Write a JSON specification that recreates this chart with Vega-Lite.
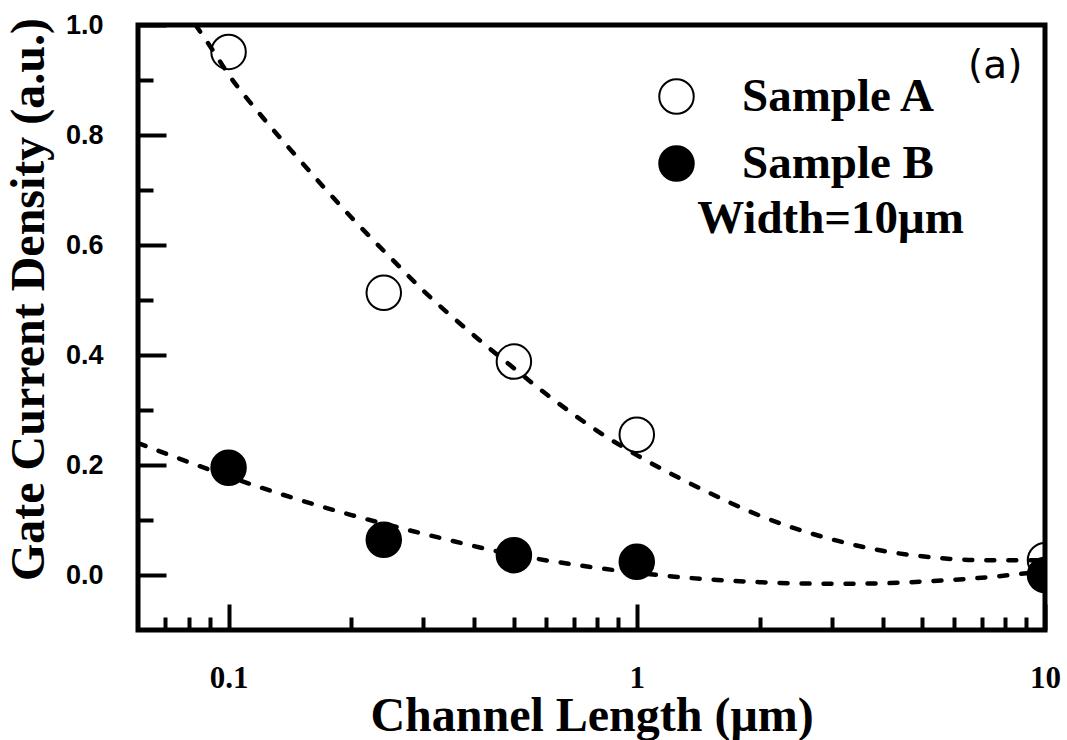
{
  "$schema": "https://vega.github.io/schema/vega-lite/v6.json",
  "width": 907,
  "height": 605,
  "autosize": {"type": "none"},
  "padding": {"left": 138, "top": 25, "right": 22, "bottom": 110},
  "background": "white",
  "config": {
    "view": {"stroke": "black", "strokeWidth": 5},
    "axis": {"grid": false, "domain": false, "tickColor": "black", "tickWidth": 4, "labelColor": "black", "titleColor": "black"}
  },
  "datasets": {
    "measured": [
      {"sample": "Sample A", "length": 0.1, "density": 0.951},
      {"sample": "Sample A", "length": 0.24, "density": 0.513},
      {"sample": "Sample A", "length": 0.5, "density": 0.388},
      {"sample": "Sample A", "length": 1, "density": 0.255},
      {"sample": "Sample A", "length": 10, "density": 0.027},
      {"sample": "Sample B", "length": 0.1, "density": 0.195},
      {"sample": "Sample B", "length": 0.24, "density": 0.064},
      {"sample": "Sample B", "length": 0.5, "density": 0.036},
      {"sample": "Sample B", "length": 1, "density": 0.024},
      {"sample": "Sample B", "length": 10, "density": 0.0}
    ],
    "fit": [
      {"sample": "Sample A", "length": 0.083, "density": 1.0},
      {"sample": "Sample A", "length": 0.09, "density": 0.962},
      {"sample": "Sample A", "length": 0.1, "density": 0.91},
      {"sample": "Sample A", "length": 0.12, "density": 0.836},
      {"sample": "Sample A", "length": 0.15, "density": 0.753},
      {"sample": "Sample A", "length": 0.2, "density": 0.65},
      {"sample": "Sample A", "length": 0.25, "density": 0.576},
      {"sample": "Sample A", "length": 0.3, "density": 0.517},
      {"sample": "Sample A", "length": 0.4, "density": 0.435},
      {"sample": "Sample A", "length": 0.5, "density": 0.376},
      {"sample": "Sample A", "length": 0.6, "density": 0.329},
      {"sample": "Sample A", "length": 0.7, "density": 0.292},
      {"sample": "Sample A", "length": 0.8, "density": 0.262},
      {"sample": "Sample A", "length": 1, "density": 0.218},
      {"sample": "Sample A", "length": 1.5, "density": 0.15},
      {"sample": "Sample A", "length": 2, "density": 0.108},
      {"sample": "Sample A", "length": 3, "density": 0.065},
      {"sample": "Sample A", "length": 4, "density": 0.044},
      {"sample": "Sample A", "length": 5, "density": 0.034},
      {"sample": "Sample A", "length": 7, "density": 0.027},
      {"sample": "Sample A", "length": 10, "density": 0.027},
      {"sample": "Sample B", "length": 0.06, "density": 0.24},
      {"sample": "Sample B", "length": 0.07, "density": 0.221},
      {"sample": "Sample B", "length": 0.08, "density": 0.205},
      {"sample": "Sample B", "length": 0.1, "density": 0.179},
      {"sample": "Sample B", "length": 0.15, "density": 0.136},
      {"sample": "Sample B", "length": 0.2, "density": 0.109},
      {"sample": "Sample B", "length": 0.3, "density": 0.075},
      {"sample": "Sample B", "length": 0.5, "density": 0.037},
      {"sample": "Sample B", "length": 0.7, "density": 0.019},
      {"sample": "Sample B", "length": 1, "density": 0.004},
      {"sample": "Sample B", "length": 1.5, "density": -0.008},
      {"sample": "Sample B", "length": 2, "density": -0.013},
      {"sample": "Sample B", "length": 3, "density": -0.016},
      {"sample": "Sample B", "length": 4, "density": -0.015},
      {"sample": "Sample B", "length": 5, "density": -0.012},
      {"sample": "Sample B", "length": 7, "density": -0.005},
      {"sample": "Sample B", "length": 10, "density": 0.007}
    ],
    "notes": [
      {"note": "(a)", "length": 6.48, "density": 0.9036},
      {"note": "Width=10μm", "length": 1.406, "density": 0.622}
    ]
  },
  "layer": [
    {
      "data": {"name": "measured"},
      "mark": {"type": "point", "shape": "circle", "filled": true, "size": 1190, "stroke": "black", "strokeWidth": 2, "opacity": 1, "clip": true},
      "encoding": {
        "x": {
          "field": "length", "type": "quantitative",
          "scale": {"type": "log", "domain": [0.06, 10], "nice": false},
          "axis": {
            "orient": "bottom", "values": [0.1, 1, 10], "format": "~g",
            "tickSize": -26, "labelPadding": 83, "labelBaseline": "alphabetic",
            "labelFlush": false, "labelOverlap": false,
            "labelFont": "Liberation Serif", "labelFontWeight": "bold", "labelFontSize": 31,
            "title": "Channel Length (μm)", "titleFont": "Liberation Serif", "titleFontWeight": "bold",
            "titleFontSize": 48, "titleBaseline": "alphabetic", "titleY": 100
          }
        },
        "y": {
          "field": "density", "type": "quantitative",
          "scale": {"domain": [-0.1, 1.0], "nice": false, "zero": false},
          "axis": {
            "orient": "left", "values": [0, 0.2, 0.4, 0.6, 0.8, 1.0], "format": ".1f",
            "tickSize": -28, "labelPadding": 63,
            "labelFont": "Liberation Sans", "labelFontWeight": "bold", "labelFontSize": 27,
            "title": "Gate Current Density (a.u.)", "titleFont": "Liberation Serif", "titleFontWeight": "bold",
            "titleFontSize": 48, "titleAngle": -90, "titleAlign": "center", "titleBaseline": "alphabetic",
            "titleX": -95, "titleY": 274
          }
        },
        "fill": {
          "field": "sample", "type": "nominal",
          "scale": {"domain": ["Sample A", "Sample B"], "range": ["transparent", "black"]},
          "legend": {
            "title": null, "orient": "none", "legendX": 515, "legendY": 48,
            "symbolType": "circle", "symbolSize": 1190, "symbolStrokeColor": "black", "symbolStrokeWidth": 2,
            "labelFont": "Liberation Serif", "labelFontWeight": "bold", "labelFontSize": 47, "labelColor": "black",
            "labelLimit": 400, "labelOffset": 42, "rowPadding": 19, "padding": 0
          }
        }
      }
    },
    {
      "data": {"name": "fit"},
      "mark": {"type": "line", "color": "black", "strokeWidth": 4.5, "strokeDash": [8, 14], "strokeCap": "round", "interpolate": "monotone", "clip": true},
      "encoding": {
        "x": {
          "field": "length", "type": "quantitative",
          "axis": {"orient": "bottom", "values": [0.07, 0.08, 0.09, 0.2, 0.3, 0.4, 0.5, 0.6, 0.7, 0.8, 0.9, 2, 3, 4, 5, 6, 7, 8, 9], "tickSize": -13, "labels": false, "title": null}
        },
        "y": {
          "field": "density", "type": "quantitative",
          "axis": {"orient": "left", "values": [0.1, 0.3, 0.5, 0.7, 0.9], "tickSize": -15, "labels": false, "title": null}
        },
        "detail": {"field": "sample"}
      }
    },
    {
      "data": {"name": "notes"},
      "transform": [{"filter": "datum.note === '(a)'"}],
      "mark": {"type": "text", "font": "DejaVu Sans", "fontSize": 39, "align": "left", "baseline": "alphabetic", "color": "black"},
      "encoding": {
        "x": {"field": "length", "type": "quantitative", "axis": null},
        "y": {"field": "density", "type": "quantitative", "axis": null},
        "text": {"field": "note"}
      }
    },
    {
      "data": {"name": "notes"},
      "transform": [{"filter": "datum.note !== '(a)'"}],
      "mark": {"type": "text", "font": "Liberation Serif", "fontWeight": "bold", "fontSize": 47, "align": "left", "baseline": "alphabetic", "color": "black"},
      "encoding": {
        "x": {"field": "length", "type": "quantitative", "axis": null},
        "y": {"field": "density", "type": "quantitative", "axis": null},
        "text": {"field": "note"}
      }
    }
  ],
  "resolve": {"axis": {"x": "independent", "y": "independent"}}
}
